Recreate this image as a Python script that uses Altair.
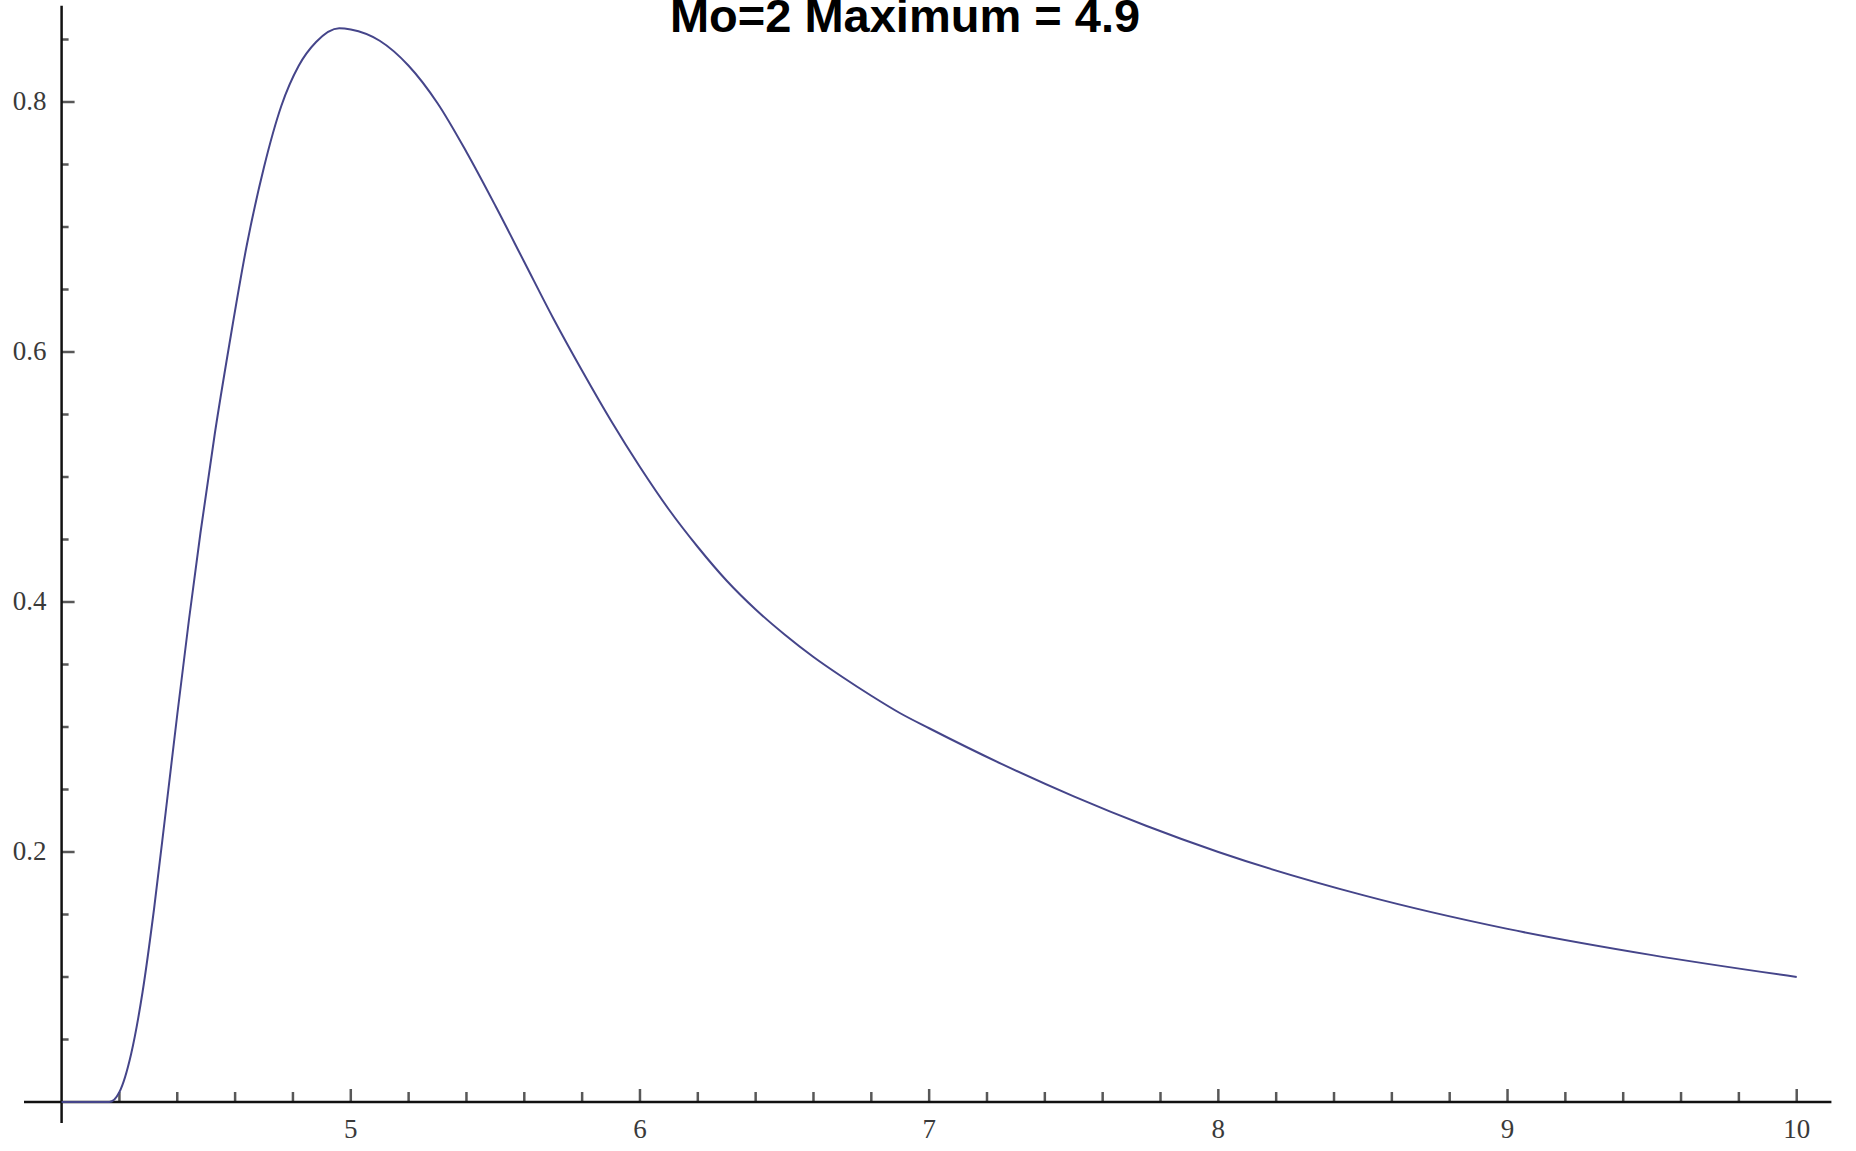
import altair as alt
import pandas as pd

# Density curve, sampled along x
curve_x = [4.00, 4.10, 4.165, 4.20, 4.24, 4.28, 4.32, 4.36, 4.40, 4.44, 4.48,
           4.53, 4.58, 4.64, 4.70, 4.76, 4.82, 4.88, 4.96, 5.00, 5.10, 5.20,
           5.30, 5.40, 5.50, 5.60, 5.70, 5.80, 5.90, 6.00, 6.10, 6.20, 6.30,
           6.40, 6.50, 6.60, 6.70, 6.80, 6.90, 7.00, 7.25, 7.50, 7.75, 8.00,
           8.50, 9.00, 9.50, 10.00]
curve_y = [0.0, 0.0, 0.0, 0.008, 0.038, 0.088, 0.155, 0.232, 0.310, 0.385, 0.455,
           0.535, 0.606, 0.685, 0.748, 0.797, 0.829, 0.848, 0.859, 0.858, 0.849, 0.829,
           0.799, 0.760, 0.717, 0.672, 0.627, 0.585, 0.545, 0.508, 0.474, 0.444, 0.417,
           0.394, 0.374, 0.356, 0.340, 0.325, 0.311, 0.299, 0.2705, 0.2445, 0.221, 0.200,
           0.1655, 0.1385, 0.1175, 0.100]

# Axis ticks and labels
x_major = [5, 6, 7, 8, 9, 10]
x_major_labels = ["5", "6", "7", "8", "9", "10"]
x_minor = [4.2, 4.4, 4.6, 4.8, 5.2, 5.4, 5.6, 5.8, 6.2, 6.4, 6.6, 6.8,
           7.2, 7.4, 7.6, 7.8, 8.2, 8.4, 8.6, 8.8, 9.2, 9.4, 9.6, 9.8]
y_major = [0.2, 0.4, 0.6, 0.8]
y_major_labels = ["0.2", "0.4", "0.6", "0.8"]
y_minor = [0.05, 0.1, 0.15, 0.25, 0.3, 0.35, 0.45, 0.5, 0.55, 0.65, 0.7, 0.75, 0.85]

title_text = "Mo=2 Maximum = 4.9"

# Plot range and where the axes cross
X_DOMAIN = [3.787, 10.205]
Y_DOMAIN = [-0.0392, 0.8816]
X_ORIGIN = 4.0
Y_ORIGIN = 0.0
X_AXIS_SPAN = [3.87, 10.12]
Y_AXIS_SPAN = [-0.0168, 0.877]

W, H = 1856, 1151
LINE_COLOR = "#45458a"
AXIS_COLOR = "#111111"
LABEL_COLOR = "#3a3a3a"
LABEL_FONT = "Liberation Serif"

xs = alt.Scale(domain=X_DOMAIN, nice=False, zero=False)
ys = alt.Scale(domain=Y_DOMAIN, nice=False, zero=False)

X = lambda f: alt.X(f, type="quantitative", scale=xs, axis=None)
Y = lambda f: alt.Y(f, type="quantitative", scale=ys, axis=None)

curve_df = pd.DataFrame({"x": curve_x, "y": curve_y})
curve = alt.Chart(curve_df).mark_line(
    color=LINE_COLOR, strokeWidth=2, interpolate="monotone"
).encode(x=X("x"), y=Y("y"))

# Axis lines crossing at (X_ORIGIN, Y_ORIGIN)
x_axis_line = alt.Chart(pd.DataFrame({
    "x": [X_AXIS_SPAN[0]], "x2": [X_AXIS_SPAN[1]], "y": [Y_ORIGIN]
})).mark_rule(color=AXIS_COLOR, strokeWidth=2.5).encode(
    x=X("x"), x2="x2:Q", y=Y("y"))

y_axis_line = alt.Chart(pd.DataFrame({
    "x": [X_ORIGIN], "y": [Y_AXIS_SPAN[0]], "y2": [Y_AXIS_SPAN[1]]
})).mark_rule(color=AXIS_COLOR, strokeWidth=2.5).encode(
    x=X("x"), y=Y("y"), y2="y2:Q")

# Inward ticks
x_major_df = pd.DataFrame({"x": x_major, "y": [Y_ORIGIN] * len(x_major), "label": x_major_labels})
x_minor_df = pd.DataFrame({"x": x_minor, "y": [Y_ORIGIN] * len(x_minor)})
y_major_df = pd.DataFrame({"x": [X_ORIGIN] * len(y_major), "y": y_major, "label": y_major_labels})
y_minor_df = pd.DataFrame({"x": [X_ORIGIN] * len(y_minor), "y": y_minor})

x_major_ticks = alt.Chart(x_major_df).mark_tick(
    orient="vertical", size=13, thickness=2.5, yOffset=-6.5, color=AXIS_COLOR
).encode(x=X("x"), y=Y("y"))
x_minor_ticks = alt.Chart(x_minor_df).mark_tick(
    orient="vertical", size=10, thickness=2.5, yOffset=-5, color=AXIS_COLOR
).encode(x=X("x"), y=Y("y"))
y_major_ticks = alt.Chart(y_major_df).mark_tick(
    orient="horizontal", size=13, thickness=2.5, xOffset=6.5, color=AXIS_COLOR
).encode(x=X("x"), y=Y("y"))
y_minor_ticks = alt.Chart(y_minor_df).mark_tick(
    orient="horizontal", size=7, thickness=2.5, xOffset=3.5, color=AXIS_COLOR
).encode(x=X("x"), y=Y("y"))

x_labels = alt.Chart(x_major_df).mark_text(
    font=LABEL_FONT, fontSize=27, color=LABEL_COLOR, baseline="middle", dy=28
).encode(x=X("x"), y=Y("y"), text="label:N")
y_labels = alt.Chart(y_major_df).mark_text(
    font=LABEL_FONT, fontSize=27, color=LABEL_COLOR, baseline="middle", align="right", dx=-15
).encode(x=X("x"), y=Y("y"), text="label:N")

# Heading drawn inside the view, slightly left of centre
title = alt.Chart(pd.DataFrame({"t": [title_text]})).mark_text(
    font="Liberation Sans", fontSize=47, fontWeight="bold", color="black",
    align="center", baseline="alphabetic"
).encode(x=alt.value(W / 2 - 23), y=alt.value(32), text="t:N")

chart = alt.layer(
    x_axis_line, y_axis_line,
    x_major_ticks, x_minor_ticks, y_major_ticks, y_minor_ticks,
    x_labels, y_labels, curve, title,
).properties(
    width=W,
    height=H,
    autosize=alt.AutoSizeParams(type="none"),
    padding=0,
    background="white",
).configure_view(stroke=None)

chart.save("out.html", embed_options={"renderer": "svg", "actions": False})
